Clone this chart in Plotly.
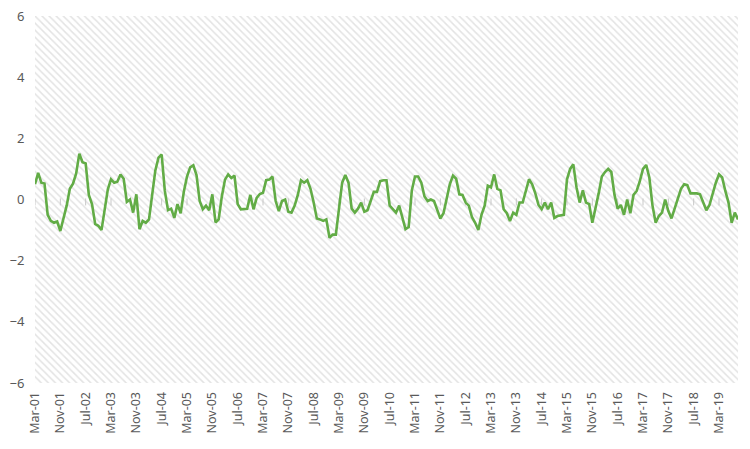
import plotly.graph_objects as go

# Monthly series, Mar-2001 .. Sep-2019 (223 months)
values = [
    0.50, 0.87, 0.55, 0.52, -0.50, -0.70, -0.76, -0.72, -1.03, -0.65,
    -0.20, 0.35, 0.52, 0.85, 1.50, 1.22, 1.18, 0.15, -0.15, -0.80,
    -0.86, -1.00, -0.25, 0.33, 0.66, 0.55, 0.58, 0.82, 0.68, -0.08,
    0.00, -0.43, 0.17, -0.97, -0.70, -0.76, -0.65, 0.10, 0.95, 1.37,
    1.47, 0.28, -0.35, -0.30, -0.60, -0.15, -0.45, 0.25, 0.75, 1.05,
    1.12, 0.80, -0.05, -0.32, -0.20, -0.35, 0.17, -0.75, -0.65, 0.10,
    0.65, 0.82, 0.70, 0.78, -0.15, -0.32, -0.32, -0.30, 0.15, -0.32,
    0.05, 0.18, 0.22, 0.63, 0.65, 0.75, -0.05, -0.38, -0.05, 0.00,
    -0.40, -0.43, -0.20, 0.15, 0.63, 0.55, 0.63, 0.35, -0.10, -0.62,
    -0.65, -0.70, -0.65, -1.25, -1.15, -1.15, -0.30, 0.55, 0.80, 0.55,
    -0.30, -0.43, -0.30, -0.10, -0.40, -0.35, -0.05, 0.25, 0.25, 0.60,
    0.63, 0.63, -0.20, -0.32, -0.43, -0.20, -0.60, -0.97, -0.90, 0.30,
    0.75, 0.75, 0.55, 0.10, -0.05, 0.00, -0.05, -0.35, -0.62, -0.45,
    0.00, 0.50, 0.78, 0.68, 0.17, 0.15, -0.10, -0.20, -0.58, -0.76,
    -1.00, -0.50, -0.20, 0.45, 0.40, 0.82, 0.35, 0.30, -0.32, -0.45,
    -0.70, -0.43, -0.50, -0.10, -0.10, 0.25, 0.66, 0.50, 0.20, -0.18,
    -0.32, -0.10, -0.32, -0.10, -0.60, -0.54, -0.52, -0.50, 0.66, 1.00,
    1.15, 0.40, -0.10, 0.30, -0.10, -0.15, -0.76, -0.30, 0.20, 0.75,
    0.90, 1.00, 0.90, 0.15, -0.30, -0.18, -0.50, 0.00, -0.45, 0.15,
    0.28, 0.60, 1.00, 1.13, 0.72, -0.20, -0.76, -0.54, -0.43, 0.00,
    -0.38, -0.62, -0.32, 0.05, 0.35, 0.50, 0.47, 0.20, 0.20, 0.20,
    0.17, -0.10, -0.35, -0.18, 0.20, 0.55, 0.82, 0.72, 0.28, -0.10,
    -0.76, -0.43, -0.65,
]

tick_labels = [
    "Mar-01", "Nov-01", "Jul-02", "Mar-03", "Nov-03", "Jul-04", "Mar-05",
    "Nov-05", "Jul-06", "Mar-07", "Nov-07", "Jul-08", "Mar-09", "Nov-09",
    "Jul-10", "Mar-11", "Nov-11", "Jul-12", "Mar-13", "Nov-13", "Jul-14",
    "Mar-15", "Nov-15", "Jul-16", "Mar-17", "Nov-17", "Jul-18", "Mar-19",
]
tick_step = 8
y_ticks = [-6, -4, -2, 0, 2, 4, 6]

n = len(values)
x = list(range(n))
tickvals = [i * tick_step for i in range(len(tick_labels))]
xmax = n - 1
ymin, ymax = y_ticks[0], y_ticks[-1]

fig = go.Figure()

# hatched plot-area background
fig.add_trace(go.Scatter(
    x=[0, xmax, xmax, 0, 0], y=[ymin, ymin, ymax, ymax, ymin],
    mode="lines", line=dict(width=0), fill="toself",
    fillcolor="rgba(0,0,0,0)",
    fillpattern=dict(shape="\\", fgcolor="#c8c8c8", bgcolor="white",
                     size=5, solidity=0.3),
    hoverinfo="skip", showlegend=False,
))

# axis tick marks on the zero line
fig.add_trace(go.Scatter(
    x=tickvals, y=[-0.08] * len(tickvals), mode="markers",
    marker=dict(symbol="line-ns", size=5, line=dict(width=1, color="#c8c8c8")),
    hoverinfo="skip", showlegend=False,
))

fig.add_trace(go.Scatter(
    x=x, y=values, mode="lines",
    line=dict(color="#62AC46", width=2.6),
    showlegend=False,
))

fig.update_layout(
    width=734, height=433,
    margin=dict(l=27, r=4, t=8, b=58),
    paper_bgcolor="white", plot_bgcolor="white",
    font=dict(family="Noto Sans", color="#595959", size=13),
    xaxis=dict(
        range=[0, xmax], tickmode="array", tickvals=tickvals, ticktext=tick_labels,
        tickangle=-90, showgrid=False, zeroline=False, showline=False,
        ticks="outside", ticklen=3, tickcolor="rgba(0,0,0,0)",
        tickfont=dict(size=12.5, color="#595959"), automargin=False,
        ticklabeloverflow="allow",
    ),
    yaxis=dict(
        range=[ymin, ymax], tickmode="array", tickvals=y_ticks,
        showgrid=True, gridcolor="#dadada", gridwidth=1,
        zeroline=True, zerolinecolor="#c8c8c8", zerolinewidth=1,
        showline=False, ticks="outside", ticklen=7, tickcolor="rgba(0,0,0,0)",
        tickfont=dict(size=13, color="#595959"),
        automargin=False, ticklabeloverflow="allow",
    ),
)

fig.write_html("out.html")
